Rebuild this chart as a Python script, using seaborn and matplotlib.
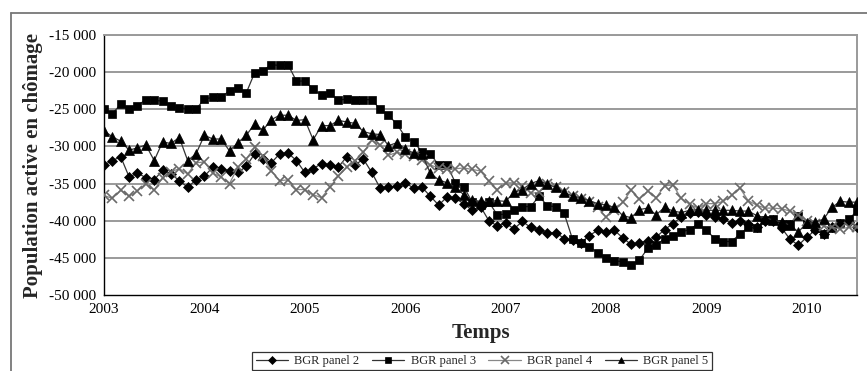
import numpy as np
import pandas as pd
import matplotlib
matplotlib.use("Agg")
import matplotlib.pyplot as plt
from matplotlib.lines import Line2D
from matplotlib.ticker import FixedLocator, FuncFormatter
import seaborn as sns

# Monthly series, January 2003 to July 2010
panel_2 = [
    -32500, -31900, -31400, -34100, -33600, -34200, -34500, -33200, -33700, -34600, -35500, -34500,
    -34000, -32800, -33000, -33300, -33500, -32700, -31000, -31700, -32200, -31000, -30900, -31900,
    -33500, -33000, -32300, -32500, -32800, -31400, -32500, -31700, -33500, -35600, -35500, -35300,
    -34900, -35600, -35500, -36700, -37900, -36800, -37000, -37700, -38600, -38100, -40000, -40700,
    -40300, -41100, -40100, -40900, -41300, -41700, -41600, -42400, -42600, -43000, -42000, -41300,
    -41500, -41300, -42300, -43200, -43000, -42700, -42200, -41200, -40400, -39500, -38900, -38800,
    -39200, -39500, -39800, -40300, -40000, -40400, -40800, -40100, -40000, -41000, -42500, -43300,
    -42200, -41300, -41800, -40800, -40500, -40200, -40800,
]
panel_3 = [
    -24900, -25600, -24300, -25000, -24500, -23700, -23800, -23900, -24600, -24800, -24900, -25000,
    -23600, -23400, -23400, -22500, -22100, -22800, -20100, -19800, -19000, -19100, -19000, -21200,
    -21200, -22300, -23100, -22800, -23800, -23600, -23700, -23700, -23700, -25000, -25800, -27000,
    -28700, -29400, -30700, -31000, -32500, -32500, -34900, -35400, -37500, -37900, -37500, -39200,
    -39100, -38500, -38100, -38100, -36700, -38000, -38100, -39000, -42500, -43000, -43500, -44300,
    -45000, -45400, -45500, -46000, -45300, -43700, -43300, -42400, -42100, -41500, -41200, -40400,
    -41300, -42400, -42800, -42800, -41800, -40900, -41000, -39900, -39800, -40400, -40400, -39300,
    -40500, -41000, -41800, -41000, -40300, -39800, -38700,
]
panel_4 = [
    -36600, -37000, -35900, -36700, -36000, -35000, -35900, -34200, -33400, -33000, -33700, -32200,
    -32100, -33600, -34100, -35000, -32800, -31700, -30100, -31300, -33300, -34600, -34500, -35800,
    -35800, -36500, -36900, -35500, -34000, -32800, -31900, -30800, -29200, -29800, -31200, -30800,
    -31000, -31300, -31800, -32500, -32900, -33100, -33000, -32900, -33100, -33300, -34700, -35800,
    -34900, -34900, -35300, -36300, -36200, -35100, -35500, -36200, -36700, -37100, -37500, -38200,
    -39500, -38500, -37500, -35900, -37100, -36000, -36900, -35300, -35200, -37000, -37800, -38300,
    -37700, -37700, -37400, -36600, -35600, -37300, -37900, -38300, -38300, -38400, -38700, -39200,
    -40100, -40400, -40700, -40900, -41100, -40900, -40800,
]
panel_5 = [
    -27900, -28700, -29300, -30500, -30200, -29800, -31900, -29400, -29600, -28800, -31900, -31000,
    -28500, -29000, -29000, -30600, -29500, -28500, -27000, -27800, -26400, -25800, -25800, -26500,
    -26400, -29100, -27200, -27200, -26500, -26700, -26900, -28000, -28300, -28400, -29900, -29500,
    -30300, -30900, -31000, -33600, -34500, -34900, -35500, -36500, -37200, -37400, -37400, -37300,
    -37400, -36200, -35800, -35000, -34600, -35100, -35500, -36200, -36700, -36900, -37300, -37700,
    -37900, -38200, -39300, -39600, -38500, -38300, -39200, -38200, -38700, -38900, -38600, -38500,
    -38600, -38600, -38600, -38600, -38700, -38700, -39300, -39600, -39900, -40200, -40600, -41500,
    -40300, -40200, -39800, -38200, -37400, -37500, -37500,
]

series_names = ["BGR panel 2", "BGR panel 3", "BGR panel 4", "BGR panel 5"]
series_values = [panel_2, panel_3, panel_4, panel_5]
year_labels = ["2003", "2004", "2005", "2006", "2007", "2008", "2009", "2010"]
y_ticks = [-50000, -45000, -40000, -35000, -30000, -25000, -20000, -15000]

month = np.arange(len(panel_2))
df = pd.concat(
    [pd.DataFrame({"mois": month, "valeur": vals, "série": name})
     for name, vals in zip(series_names, series_values)],
    ignore_index=True,
)

sns.set_theme(style="white")
plt.rcParams["font.family"] = ["Liberation Serif", "DejaVu Serif"]

styles = {
    "BGR panel 2": dict(marker="D", markersize=5.5, color="#333333", mfc="black", mec="black", mew=0.5),
    "BGR panel 3": dict(marker="s", markersize=6, color="#333333", mfc="black", mec="black", mew=0.5),
    "BGR panel 4": dict(marker="x", markersize=7, color="#888888", mfc="#6a6a6a", mec="#6a6a6a", mew=1.2),
    "BGR panel 5": dict(marker="^", markersize=6.5, color="#333333", mfc="black", mec="black", mew=0.5),
}

W, H = 867, 371
fig = plt.figure(figsize=(W / 100, H / 100), dpi=100)
fig.patch.set_facecolor("white")

# chart frame (left and top edges)
fig.add_artist(Line2D([11 / W, 11 / W], [0, 1 - 13 / H], transform=fig.transFigure,
                      color="#777777", lw=1.3))
fig.add_artist(Line2D([11 / W, 1], [1 - 13 / H, 1 - 13 / H], transform=fig.transFigure,
                      color="#777777", lw=1.3))

ax = fig.add_axes([104 / W, 1 - 295 / H, (857 - 104) / W, (295 - 35) / H])

for name in series_names:
    st = styles[name]
    sub = df[df["série"] == name]
    sns.lineplot(data=sub, x="mois", y="valeur", ax=ax, label=name,
                 color=st["color"], marker=st["marker"], markersize=st["markersize"],
                 markerfacecolor=st["mfc"], markeredgecolor=st["mec"],
                 markeredgewidth=st["mew"], linewidth=0.9, zorder=3, legend=False)

ax.set_xlim(0, len(month) - 1)
ax.set_ylim(-50000, -15000)

ax.set_yticks(y_ticks)
ax.yaxis.set_major_formatter(FuncFormatter(lambda v, p: f"-{abs(int(v)):,}".replace(",", " ")))
ax.grid(False)
for v in y_ticks[1:]:
    ax.axhline(v, color="#9a9a9a", lw=1.4, zorder=1)

ax.xaxis.set_major_locator(FixedLocator(list(range(0, len(month), 12))))
ax.xaxis.set_minor_locator(FixedLocator(list(range(0, len(month), 3))))
ax.set_xticklabels(year_labels)

ax.tick_params(axis="both", which="both", direction="out", color="black", width=1,
               labelsize=11, labelcolor="black")
ax.tick_params(axis="x", which="major", length=4, pad=2)
ax.tick_params(axis="x", which="minor", length=4)
ax.tick_params(axis="y", which="major", length=4, pad=2)

for side in ["left", "bottom"]:
    ax.spines[side].set_color("black")
    ax.spines[side].set_linewidth(1.0)
for side in ["top", "right"]:
    ax.spines[side].set_color("#9a9a9a")
    ax.spines[side].set_linewidth(1.4)

ax.set_xlabel("Temps", fontsize=15, fontweight="bold", labelpad=5)
ax.set_ylabel("Population active en chômage", fontsize=15, fontweight="bold", labelpad=4)

handles, labels = ax.get_legend_handles_labels()
leg = fig.legend(handles, labels, loc="center", bbox_to_anchor=(482 / W, 1 - 361 / H),
                 ncol=4, frameon=True, fancybox=False, edgecolor="black",
                 fontsize=9, handlelength=2.6, handletextpad=0.5, columnspacing=1.0,
                 borderpad=0.25, markerscale=0.75)
leg.get_frame().set_linewidth(0.9)

fig.savefig("out.png", dpi=100, facecolor="white")
